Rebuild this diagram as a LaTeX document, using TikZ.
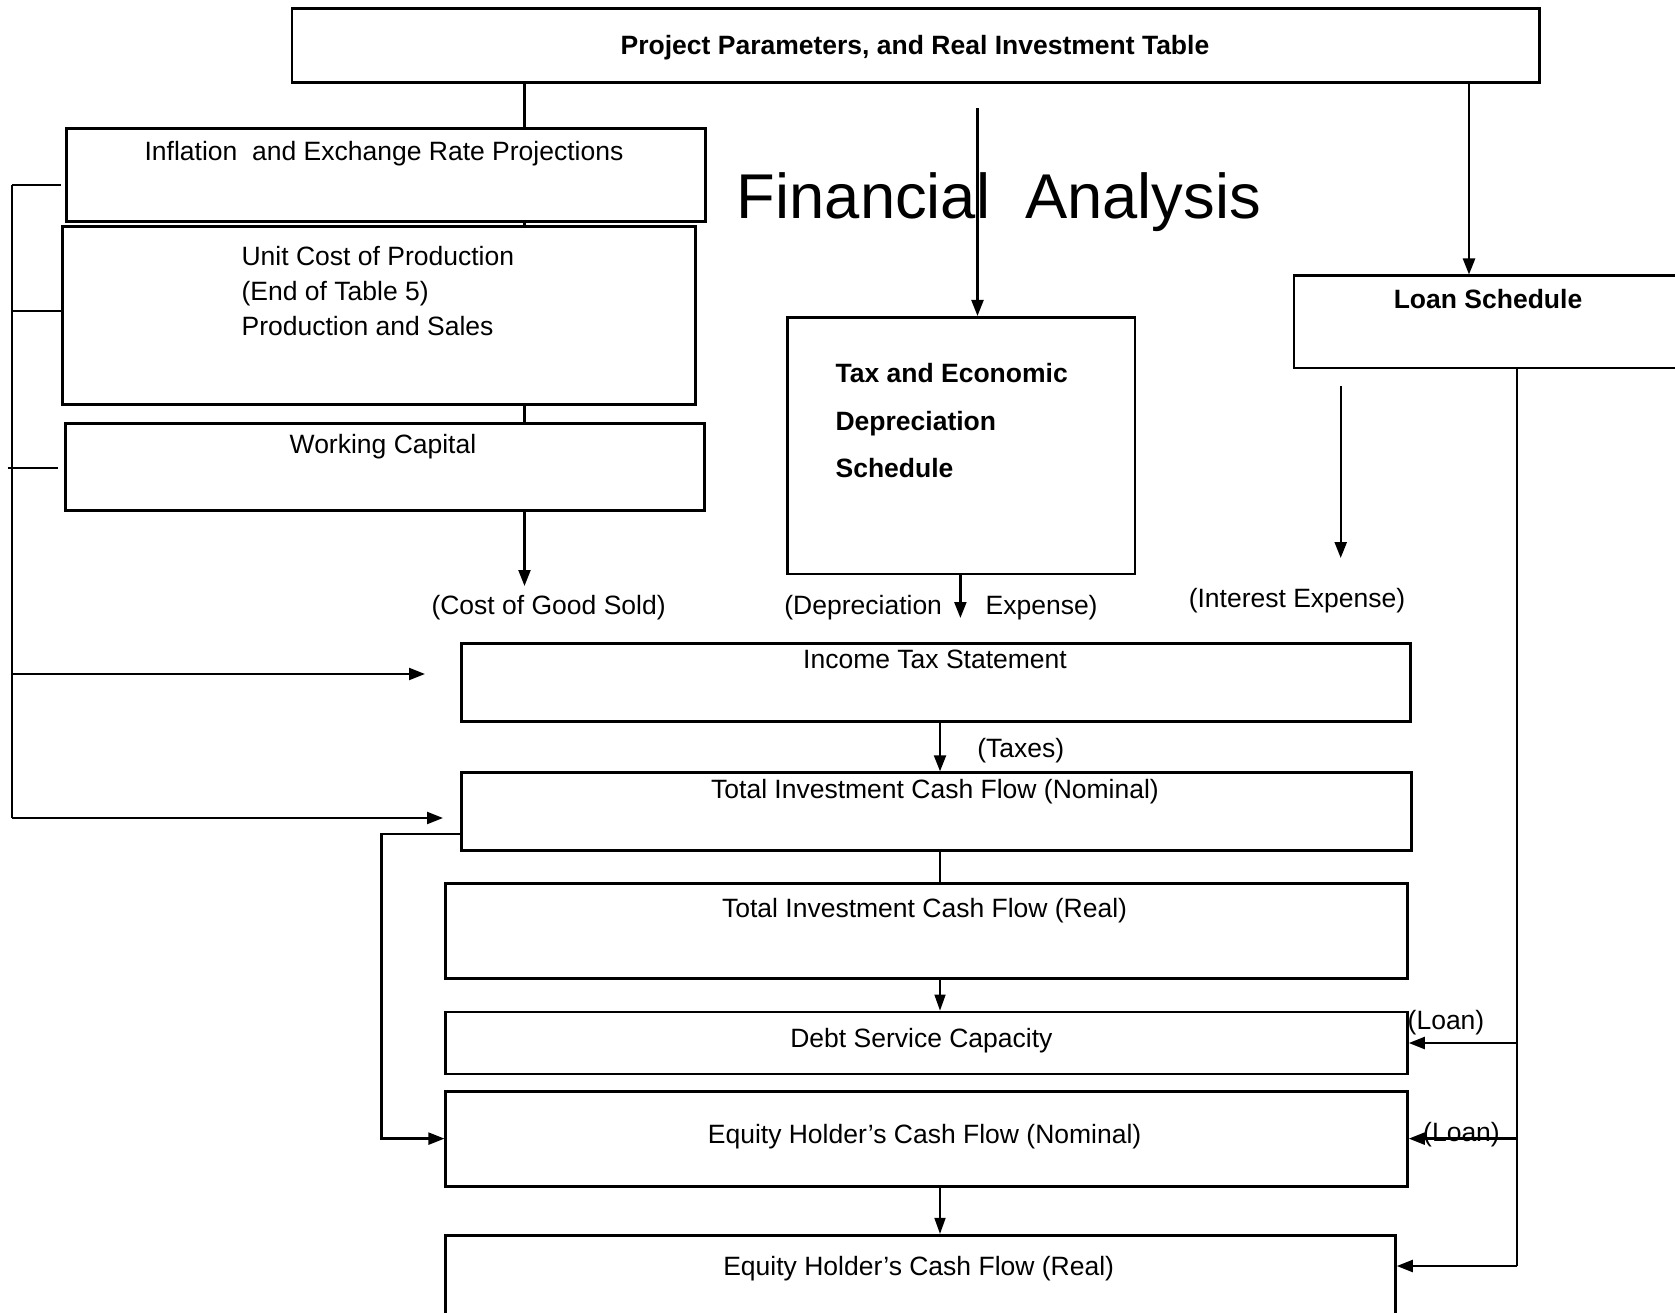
\documentclass[tikz,border=0pt]{standalone}
\usepackage{fontspec}
\setmainfont{Liberation Sans}
\usetikzlibrary{arrows.meta}
\pgfdeclarelayer{background}
\pgfsetlayers{background,main}
\begin{document}
\begin{tikzpicture}[x=1pt,y=-1pt,
  box/.style={draw, line width=2.8pt, fill=white, inner sep=0pt, anchor=north west},
  txt/.style={inner sep=0pt, anchor=base, font=\fontsize{26.5}{32}\selectfont},
  txtl/.style={txt, anchor=base west},
  bld/.style={txt, font=\fontsize{26.5}{32}\selectfont\bfseries},
  con/.style={line width=2.3pt},
  arr/.style={con, -{Triangle[length=16pt,width=12pt]}},
  tarr/.style={line width=1.6pt, -{Triangle[length=16pt,width=11pt]}},
]
\useasboundingbox (0,0) rectangle (1675,1313);

% boxes
\node[box, minimum width=1247.7pt, minimum height=73.7pt] (top) at (290.6,7.5) {};
\node[bld] (topT) at (915,54.5) {Project Parameters, and Real Investment Table};

\node[box, minimum width=639pt, minimum height=93pt] (infl) at (65,127) {};
\node[txt] (inflT) at (384,161) {Inflation\ \ and Exchange Rate Projections};

\node[box, minimum width=633pt, minimum height=178pt] (unit) at (61,225) {};
\node[txtl] (unitA) at (241.4,266) {Unit Cost of Production};
\node[txtl] (unitB) at (241.4,300.5) {(End of Table 5)};
\node[txtl] (unitC) at (241.4,336) {Production and Sales};

\node[box, minimum width=639pt, minimum height=87pt] (wc) at (64,422) {};
\node[txt] (wcT) at (383,453) {Working Capital};

\node[txt, font=\fontsize{63.3}{70}\selectfont] (fa) at (999,219) {Financial\ \ Analysis};

\node[box, minimum width=347.5pt, minimum height=256.6pt] (tax) at (786,316) {};
\node[bld, anchor=base west] (taxA) at (835.4,382) {Tax and Economic};
\node[bld, anchor=base west] (taxB) at (835.4,430) {Depreciation};
\node[bld, anchor=base west] (taxC) at (835.4,477) {Schedule};

\node[box, minimum width=400pt, minimum height=92pt] (loan) at (1292.6,274.5) {};
\node[bld] (loanT) at (1488,308.5) {Loan Schedule};

\node[box, minimum width=948.6pt, minimum height=78pt] (its) at (460.4,642) {};
\node[txt] (itsT) at (935,668.5) {Income Tax Statement};

\node[box, minimum width=949.6pt, minimum height=77.7pt] (ticfn) at (460.4,771.3) {};
\node[txt] (ticfnT) at (935,798) {Total Investment Cash Flow (Nominal)};

\node[box, minimum width=961.6pt, minimum height=95pt] (ticfr) at (444.4,882.4) {};
\node[txt] (ticfrT) at (924.6,917.5) {Total Investment Cash Flow (Real)};

\node[box, minimum width=961.6pt, minimum height=62pt] (dsc) at (444.4,1010.6) {};
\node[txt] (dscT) at (921.4,1047) {Debt Service Capacity};

\node[box, minimum width=961.6pt, minimum height=95pt] (ehn) at (444.4,1089.7) {};
\node[txt] (ehnT) at (924.6,1143) {Equity Holder’s Cash Flow (Nominal)};

\node[box, minimum width=949.6pt, minimum height=130pt] (ehr) at (444.4,1233.9) {};
\node[txt] (ehrT) at (918.7,1275.5) {Equity Holder’s Cash Flow (Real)};

% labels
\node[txt] (cgs) at (548.6,614) {(Cost of Good Sold)};
\node[txt] (depA) at (863.2,614) {(Depreciation};
\node[txt] (depB) at (1041.6,614) {Expense)};
\node[txt] (intT) at (1297,607.5) {(Interest Expense)};
\node[txt] (taxesT) at (1020.8,757.5) {(Taxes)};
\node[txt] (loanA) at (1446,1029.5) {(Loan)};
\node[txt] (loanB) at (1461.5,1141.5) {(Loan)};

% coordinates
\coordinate (cg) at (524.5,586);
\coordinate (taxstart) at (977.5,108);
\coordinate (lx) at (1469,0);
\coordinate (ia) at (1340.7,385.7);
\coordinate (ib) at (1340.7,558);
\coordinate (dx) at (960.4,618);
\coordinate (tx) at (940,0);
\coordinate (b1) at (12,185);
\coordinate (t1) at (61,185);
\coordinate (b2) at (12,311);
\coordinate (t3a) at (7.5,468);
\coordinate (t3b) at (58,468);
\coordinate (b3) at (12,674);
\coordinate (a1) at (425,674);
\coordinate (b4) at (12,818);
\coordinate (a2) at (443,818);
\coordinate (rx) at (381.4,834.3);
\coordinate (lv) at (1517,1266);

% connectors
\begin{pgfonlayer}{background}
\draw[arr] (top.south -| cg) -- (cg);
\end{pgfonlayer}
\draw[arr] (taxstart) -- (taxstart |- tax.north);
\draw[arr] (top.south -| lx) -- (loan.north -| lx);
\draw[arr] (ia) -- (ib);
\draw[arr] (tax.south -| dx) -- (dx);
\draw[arr] (its.south -| tx) -- (ticfn.north -| tx);
\draw[con] (ticfn.south -| tx) -- (ticfr.north -| tx);
\draw[tarr] (ticfr.south -| tx) -- (dsc.north -| tx);
\draw[tarr] (ehn.south -| tx) -- (ehr.north -| tx);

\draw[con] (b1) -- (b4);
\draw[con] (b1) -- (t1);
\draw[con] (b2) -- (b2 -| unit.west);
\draw[con] (t3a) -- (t3b);
\draw[arr] (b3) -- (a1);
\draw[arr] (b4) -- (a2);

\draw[arr] (ticfn.west |- rx) -- (rx) |- (ehn.west);

\draw[con] (loan.south -| lv) -- (lv);
\draw[arr] (lv |- dsc.east) -- (dsc.east);
\draw[arr] (lv |- ehn.east) -- (ehn.east);
\draw[arr] (lv) -- (lv -| ehr.east);
\end{tikzpicture}
\end{document}
